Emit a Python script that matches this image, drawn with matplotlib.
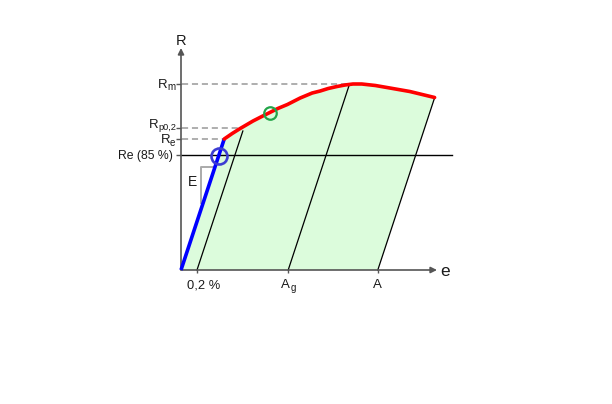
import numpy as np
import matplotlib
matplotlib.use("Agg")
import matplotlib.pyplot as plt

plt.rcParams['font.family'] = ['Liberation Sans', 'DejaVu Sans']

# schematic stress-strain curve (strain in %, stress in MPa)
E_mod = 485.0          # slope of the elastic part
R_e = 262.0
R_p02 = 284.0
R_m = 372.0
R_e85 = 230.0
e_02 = 0.2
A_g = 1.34
A_br = 2.46

# plastic part
curve_e = [0.54, 0.64, 0.74, 0.90, 1.01, 1.11, 1.21, 1.33, 1.49, 1.64, 1.74, 1.84,
           1.95, 2.05, 2.15, 2.26, 2.43, 2.61, 2.86, 3.17]
curve_R = [262, 273, 283, 298, 307, 315, 323, 331, 344, 354, 358, 363,
           367, 370, 372, 372, 369, 364, 357, 345]

# axes extents (schematic)
e_max = 3.2
R_max = 444

txt = '#1a1a1a'
axc = '#555555'

fig = plt.figure(figsize=(6.12, 4.04), dpi=100)
ax = fig.add_axes([0, 0, 1, 1])
ax.set_xlim(-2.2625, 5.3875)
ax.set_ylim(-268, 540)
ax.axis('off')

# green area under the curve
poly_e = [0] + curve_e + [A_br]
poly_R = [0] + curve_R + [0]
ax.fill(poly_e, poly_R, color='#dcfcdc', lw=0, zorder=1)

# unloading lines parallel to the elastic line
R_top02 = 278
ax.plot([e_02, e_02 + R_top02 / E_mod], [0, R_top02], color='black', lw=0.9, zorder=3)
ax.plot([A_g, A_g + R_m / E_mod], [0, R_m], color='black', lw=0.9, zorder=3)
ax.plot([A_br, A_br + curve_R[-1] / E_mod], [0, curve_R[-1]], color='black', lw=0.9, zorder=3)

# dashed reference levels
dash = dict(color='#999999', lw=1.1, ls=(0, (4, 2.5)), zorder=2)
ax.plot([0.01, 2.1], [R_m, R_m], **dash)
ax.plot([0.01, 0.77], [R_p02, R_p02], **dash)
ax.plot([0.01, curve_e[0]], [R_e, R_e], **dash)

# Re (85 %) line
ax.plot([0, 3.39], [R_e85, R_e85], color='black', lw=1.0, zorder=3)

# E triangle
ax.plot([0.4, 0.25, 0.25], [206, 206, 134], color='#aaaaaa', lw=1.4, zorder=2)
ax.text(0.1375, 176, 'E', fontsize=10, ha='center', va='center', color=txt)

# elastic and plastic parts
ax.plot([0, R_e / E_mod], [0, R_e], color='#0000ff', lw=2.6, solid_capstyle='butt', zorder=5)
ax.plot(curve_e, curve_R, color='#ff0000', lw=2.6, solid_capstyle='round',
        solid_joinstyle='round', zorder=5)

# markers
ax.plot([R_e85 / E_mod], [R_e85 - 1], 'o', ms=11.5, mfc='none', mec='#3c3cd2', mew=1.9, zorder=6)
ax.plot([curve_e[5]], [curve_R[5]], 'o', ms=9, mfc='none', mec='#22a548', mew=1.6, zorder=6)

# axes with arrows
arr = dict(arrowstyle='-|>', color=axc, lw=1.2, mutation_scale=9, shrinkA=0, shrinkB=0)
ax.annotate('', xy=(0, R_max), xytext=(0, 0), arrowprops=arr, zorder=4)
ax.annotate('', xy=(e_max, 0), xytext=(0, 0), arrowprops=arr, zorder=4)
ax.text(0, 458, 'R', fontsize=10.5, ha='center', va='center', color=txt)
ax.text(3.3, -4, 'e', fontsize=12.5, ha='center', va='center', color=txt)

# ticks
ax.plot([0] * 4, [R_m, R_p02, R_e, R_e85], ls='none', marker=0, ms=3.5, mew=1.0, color=axc, zorder=4)
ax.plot([e_02, A_g, A_br], [0] * 3, ls='none', marker=3, ms=2.5, mew=1.0, color=axc, zorder=4)


def sub_label(x, y, main, sub, dx, dy, sdy, size=9.5, ssize=7.0):
    ax.annotate(main, xy=(x, y), xytext=(dx, dy), textcoords='offset pixels',
                fontsize=size, ha='right', va='baseline', color=txt)
    ax.annotate(sub, xy=(x, y), xytext=(dx, sdy), textcoords='offset pixels',
                fontsize=ssize, ha='left', va='baseline', color=txt)


# stress labels
sub_label(0, R_m, 'R', 'm', -14, -4, -6.5)
sub_label(0, R_p02, 'R', 'p0,2', -23, 0, -2.5, ssize=6.6)
sub_label(0, R_e, 'R', 'e', -11, -4, -6.5)
ax.annotate('Re (85 %)', xy=(0, R_e85), xytext=(-8, -1.5), textcoords='offset pixels',
            fontsize=8.8, ha='right', va='center', color=txt)

# strain labels
ax.annotate('0,2 %', xy=(e_02, 0), xytext=(7, -18), textcoords='offset pixels',
            fontsize=9.3, ha='center', va='baseline', color=txt)
sub_label(A_g, 0, 'A', 'g', 2, -18, -21)
ax.annotate('A', xy=(A_br, 0), xytext=(0, -18), textcoords='offset pixels',
            fontsize=9.5, ha='center', va='baseline', color=txt)

fig.savefig('out.png', dpi=100)
